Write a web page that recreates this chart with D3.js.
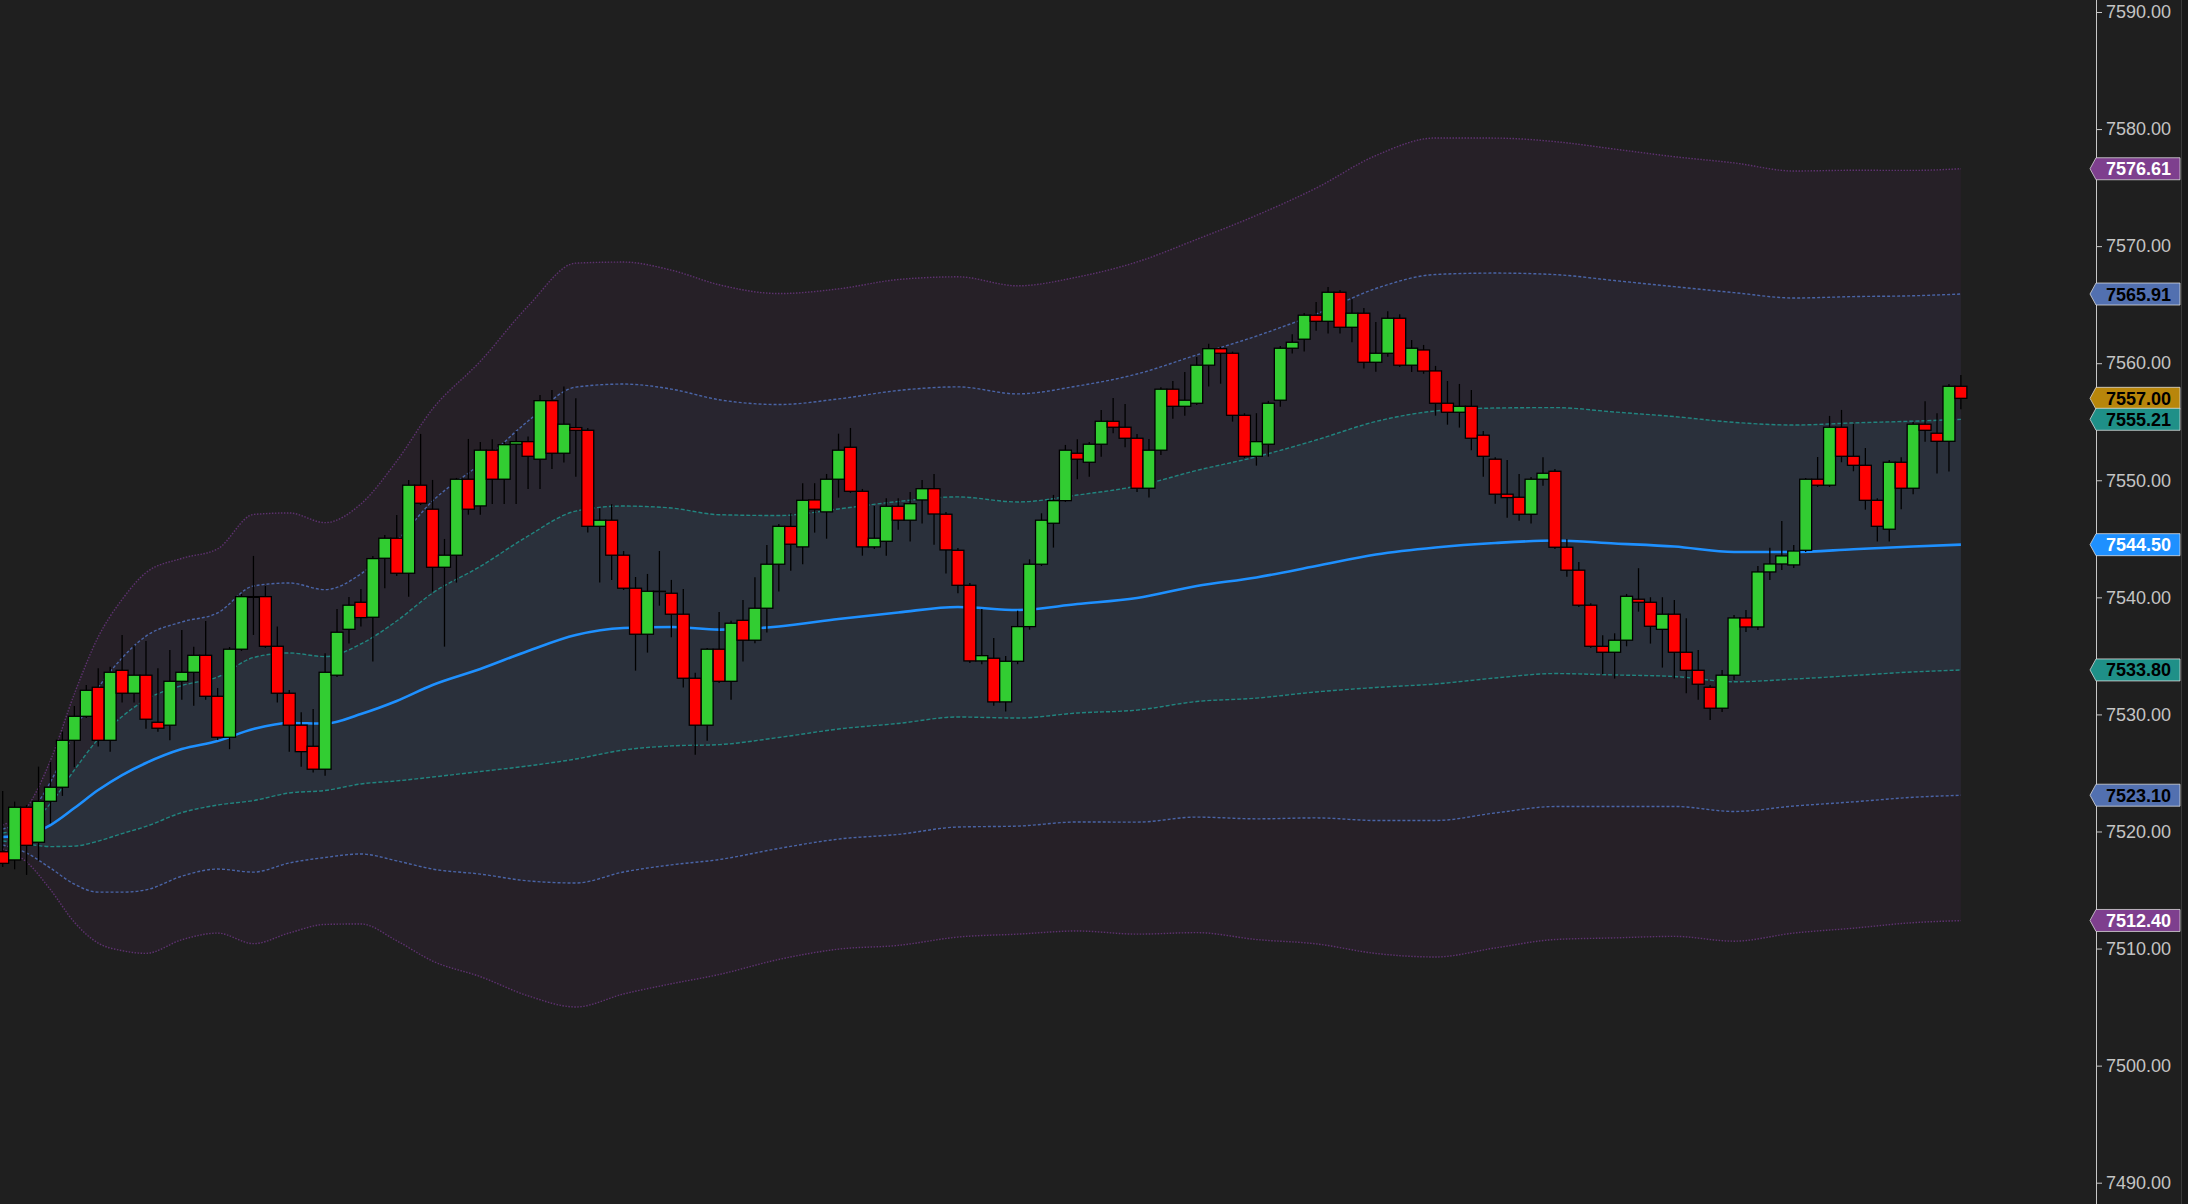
<!DOCTYPE html>
<html><head><meta charset="utf-8">
<script src="https://cdn.jsdelivr.net/npm/d3@7"></script>
<style>html,body{margin:0;padding:0;background:#1f1f1f;overflow:hidden}</style>
</head><body><svg id="c" width="2188" height="1204"></svg>
<script>
// ---- candle data (index 0..164) ----
const open = [
7518.27,7517.57,7522.07,7519.08,7522.58,7523.78,7527.79,7529.84,7532.32,7527.79,
7533.77,7531.81,7533.35,7529.33,7529.08,7532.83,7533.60,7535.05,7531.55,7528.05,
7535.57,7540.00,7540.06,7535.82,7531.81,7529.08,7527.28,7525.32,7533.35,7537.27,
7539.58,7538.30,7543.34,7545.05,7542.06,7549.58,7547.53,7542.57,7543.60,7550.09,
7547.81,7552.57,7550.09,7553.08,7553.30,7551.80,7556.80,7552.31,7554.50,7554.27,
7546.07,7546.59,7543.60,7540.78,7536.85,7540.52,7540.35,7538.56,7533.09,7529.08,
7535.57,7532.83,7538.04,7536.34,7539.07,7542.83,7546.06,7544.31,7548.32,7547.30,
7550.09,7552.82,7549.06,7544.31,7544.79,7547.78,7546.59,7548.32,7549.28,7547.10,
7544.02,7541.03,7534.57,7534.80,7531.07,7534.54,7537.50,7542.83,7546.33,7548.26,
7552.31,7551.54,7553.08,7555.04,7554.53,7553.59,7549.32,7552.57,7557.78,7556.32,
7556.58,7559.83,7561.24,7560.85,7555.55,7552.05,7553.08,7556.84,7561.28,7562.05,
7564.10,7563.58,7566.06,7563.07,7564.27,7560.08,7560.85,7563.84,7559.83,7561.13,
7559.34,7556.58,7555.81,7556.32,7553.85,7551.80,7548.81,7548.55,7547.10,7550.09,
7550.77,7544.28,7542.32,7539.33,7535.82,7535.31,7536.34,7539.84,7539.58,7537.27,
7538.56,7535.31,7533.77,7532.32,7530.53,7533.35,7538.24,7537.47,7542.17,7542.85,
7542.77,7544.02,7550.09,7549.58,7554.53,7552.05,7551.28,7548.29,7545.82,7551.54,
7549.32,7554.79,7554.02,7553.33,7558.03];
const high = [
7523.46,7522.55,7522.27,7525.54,7525.97,7528.53,7530.72,7532.52,7533.94,7534.08,
7536.79,7535.93,7536.28,7533.94,7535.51,7537.22,7535.79,7537.98,7532.26,7535.76,
7540.29,7543.54,7540.97,7537.50,7532.09,7530.19,7530.47,7535.22,7539.01,7540.03,
7540.72,7543.54,7545.33,7547.04,7550.03,7553.96,7550.03,7544.99,7550.20,7553.53,
7553.27,7553.50,7553.27,7554.21,7553.73,7557.29,7557.72,7558.00,7557.01,7554.47,
7547.61,7547.95,7543.96,7541.74,7542.00,7543.96,7541.49,7540.72,7533.57,7535.68,
7538.75,7538.01,7539.78,7541.72,7544.48,7546.27,7547.18,7549.75,7549.75,7550.54,
7553.98,7554.47,7549.26,7547.81,7548.47,7548.47,7549.00,7550.03,7550.54,7547.30,
7544.22,7541.23,7539.01,7536.53,7534.99,7538.86,7543.25,7547.18,7548.75,7553.02,
7553.50,7553.27,7556.01,7557.03,7556.52,7553.96,7553.53,7557.95,7558.48,7559.25,
7560.53,7561.67,7561.39,7560.99,7555.73,7555.73,7556.78,7561.47,7562.47,7564.29,
7565.23,7566.51,7566.26,7565.46,7564.72,7563.52,7564.44,7564.18,7561.98,7561.56,
7559.77,7558.48,7558.23,7557.72,7554.21,7551.97,7551.74,7550.54,7550.29,7551.97,
7550.97,7544.99,7543.02,7539.50,7536.76,7536.93,7540.29,7542.49,7540.01,7540.01,
7539.78,7538.21,7535.51,7532.52,7533.80,7538.49,7538.92,7542.68,7544.24,7546.52,
7544.47,7550.20,7551.99,7555.50,7556.01,7554.81,7552.76,7548.47,7551.74,7551.97,
7554.98,7556.75,7555.73,7558.23,7559.00];
const low = [
7516.97,7516.77,7516.29,7517.51,7520.70,7523.04,7525.49,7529.70,7527.25,7526.82,
7531.01,7531.01,7528.78,7528.53,7527.79,7531.26,7530.75,7531.26,7527.82,7527.03,
7535.42,7536.79,7535.68,7531.01,7526.82,7525.54,7525.03,7524.77,7533.20,7536.05,
7537.50,7534.51,7540.78,7541.83,7540.06,7547.89,7540.49,7535.79,7541.26,7547.06,
7547.06,7547.98,7547.98,7547.98,7549.26,7549.26,7550.97,7551.51,7550.31,7545.53,
7541.26,7541.49,7540.63,7533.74,7535.28,7539.29,7536.59,7532.29,7526.56,7527.76,
7532.69,7531.26,7534.51,7536.08,7536.99,7540.49,7542.28,7542.83,7545.53,7545.01,
7548.52,7548.92,7543.56,7544.14,7543.56,7545.78,7544.76,7546.30,7544.50,7542.03,
7540.35,7534.40,7534.29,7530.75,7530.24,7534.29,7537.24,7542.68,7544.25,7548.15,
7550.09,7550.31,7552.02,7554.02,7552.82,7549.00,7548.52,7552.16,7555.26,7555.52,
7556.43,7558.00,7558.25,7555.01,7551.91,7551.25,7552.02,7556.29,7560.82,7560.99,
7562.78,7562.53,7562.53,7561.79,7559.54,7559.28,7560.56,7559.68,7559.25,7559.10,
7555.52,7554.75,7554.50,7552.57,7550.31,7548.00,7546.81,7546.55,7546.30,7549.54,
7544.14,7541.77,7539.18,7535.68,7533.43,7533.06,7535.82,7538.78,7536.05,7534.00,
7533.06,7531.81,7531.26,7529.53,7530.21,7532.94,7537.04,7537.21,7541.49,7542.34,
7542.51,7543.87,7549.43,7549.43,7551.54,7550.77,7547.49,7544.76,7544.76,7547.53,
7548.81,7553.30,7550.57,7550.74,7556.07];
const close = [
7517.28,7522.07,7518.82,7522.58,7523.78,7527.79,7529.84,7532.06,7527.79,7533.60,
7531.81,7533.35,7529.59,7528.82,7532.83,7533.60,7535.05,7531.55,7528.05,7535.57,
7540.06,7540.06,7535.82,7531.81,7529.08,7526.82,7525.32,7533.60,7537.02,7539.33,
7538.27,7543.31,7545.05,7542.06,7549.58,7548.04,7542.57,7543.60,7550.09,7547.53,
7552.57,7550.09,7553.04,7553.30,7552.05,7556.80,7552.31,7554.79,7554.27,7546.07,
7546.59,7543.60,7540.78,7536.85,7540.52,7540.52,7538.56,7533.09,7529.08,7535.57,
7532.83,7537.79,7536.34,7539.07,7542.83,7546.07,7544.54,7548.29,7547.53,7550.09,
7552.57,7549.06,7544.31,7545.05,7547.78,7546.59,7548.00,7549.28,7547.12,7544.05,
7541.03,7534.57,7535.02,7531.07,7534.54,7537.50,7542.83,7546.59,7548.26,7552.57,
7551.80,7553.08,7555.04,7554.53,7553.59,7549.32,7552.57,7557.78,7556.32,7556.84,
7559.83,7561.24,7560.85,7555.55,7552.05,7553.30,7556.58,7561.28,7561.79,7564.10,
7563.58,7566.06,7563.07,7564.27,7560.08,7560.85,7563.84,7559.83,7561.28,7559.33,
7556.58,7555.81,7556.32,7553.59,7552.05,7548.81,7548.52,7547.10,7550.09,7550.60,
7544.28,7542.32,7539.33,7535.82,7535.31,7536.34,7540.09,7539.58,7537.53,7538.56,
7535.31,7533.77,7532.58,7530.53,7533.35,7538.24,7537.47,7542.17,7542.85,7543.54,
7543.96,7550.09,7549.58,7554.53,7552.05,7551.28,7548.29,7546.07,7551.54,7549.32,
7554.79,7554.27,7553.33,7558.03,7557.00];

// ---- band data: moving average and standard deviation, read at bar indices ----
const bandIdx = [0,2,4,6,8,10,12,15,18,21,24,27,30,33,36,40,44,48,52,56,60,65,70,75,80,85,90,95,100,105,110,115,120,125,130,135,140,145,150,155,160,164];
const bandMid = [7519.53,7519.70,7520.55,7522.00,7523.54,7524.82,7525.85,7527.04,7527.73,7528.75,7529.27,7529.22,7530.04,7531.15,7532.51,7533.88,7535.42,7536.78,7537.38,7537.47,7537.24,7537.51,7538.15,7538.71,7539.18,7538.92,7539.43,7539.94,7540.97,7541.70,7542.68,7543.66,7544.26,7544.64,7544.85,7544.60,7544.34,7543.87,7543.87,7544.11,7544.34,7544.50];
const bandSd = [0.34,0.77,1.84,3.25,4.36,5.00,5.42,5.43,5.47,6.11,5.98,5.72,5.98,6.83,7.86,8.76,9.82,10.59,10.42,10.16,9.82,9.48,9.40,9.48,9.40,9.23,9.31,9.57,9.87,10.31,10.76,11.36,11.66,11.53,11.36,11.23,11.10,11.08,10.85,10.79,10.71,10.705];

// ---- axis ticks and price tags ----
const tickValues = [7490,7500,7510,7520,7530,7540,7550,7560,7570,7580,7590];
const tagValues = [7576.61,7565.91,7557.00,7555.21,7544.50,7533.80,7523.10,7512.40];
const tagKinds  = ['outer','mid','last','inner','ma','inner','mid','outer'];

// ---- styles ----
const style = {
  bg:'#1f1f1f',
  fillOuter:'#262027', fillMid:'#28252f', fillInner:'#2a303b',
  lineOuter:'#5e3270', lineMid:'#4a64a6', lineInner:'#21847f', ma:'#1e90ff',
  up:'#32cd32', down:'#ff0000',
  tag:{outer:['#7e3f8e','#ffffff'], mid:['#5270b0','#000000'], last:['#b8860b','#000000'],
       inner:['#1f9088','#000000'], ma:['#1e90ff','#ffffff']}
};

const W=2188,H=1204, AX=2096;
const svg=d3.select('#c');
svg.append('rect').attr('width',W).attr('height',H).attr('fill',style.bg);

const x=d3.scaleLinear().domain([0,164]).range([2.7,1960.9]);
const y=d3.scaleLinear().domain([7490,7590]).range([1182.7,12]);

const band=bandIdx.map((k,i)=>({k,m:bandMid[i],s:bandSd[i]}));
const curve=d3.curveMonotoneX;
const area=n=>d3.area().x(d=>x(d.k)).y0(d=>y(d.m-n*d.s)).y1(d=>y(d.m+n*d.s)).curve(curve);
const line=n=>d3.line().x(d=>x(d.k)).y(d=>y(d.m+n*d.s)).curve(curve);

const gb=svg.append('g');
gb.append('path').attr('d',area(3)(band)).attr('fill',style.fillOuter);
gb.append('path').attr('d',area(2)(band)).attr('fill',style.fillMid);
gb.append('path').attr('d',area(1)(band)).attr('fill',style.fillInner);
[[3,style.lineOuter,'1.5,1.5'],[-3,style.lineOuter,'1.5,1.5'],
 [2,style.lineMid,'3,2'],[-2,style.lineMid,'3,2'],
 [1,style.lineInner,'4,2'],[-1,style.lineInner,'4,2']].forEach(([n,c,da])=>{
  gb.append('path').attr('d',line(n)(band)).attr('fill','none')
    .attr('stroke',c).attr('stroke-width',1.4).attr('stroke-dasharray',da);
});
gb.append('path').attr('d',line(0)(band)).attr('fill','none')
  .attr('stroke',style.ma).attr('stroke-width',2.6);

// candles
const bars=open.map((o,i)=>({i,o,h:high[i],l:low[i],c:close[i]}));
const bw=(x(1)-x(0));
const gc=svg.append('g');
gc.selectAll('line.w').data(bars).join('line').attr('class','w')
  .attr('x1',d=>x(d.i)).attr('x2',d=>x(d.i))
  .attr('y1',d=>y(d.h)).attr('y2',d=>y(d.l))
  .attr('stroke','#000').attr('stroke-width',1.3);
gc.selectAll('rect.b').data(bars).join('rect').attr('class','b')
  .attr('x',d=>x(d.i)-bw/2).attr('width',bw)
  .attr('y',d=>y(Math.max(d.o,d.c)))
  .attr('height',d=>Math.max(0.3,Math.abs(y(d.o)-y(d.c))))
  .attr('fill',d=>d.c>=d.o?style.up:style.down)
  .attr('stroke','#000').attr('stroke-width',1.3);

// right strip
svg.append('rect').attr('x',2181).attr('y',0).attr('width',7).attr('height',H).attr('fill','#1a1a1a');
svg.append('line').attr('x1',2181.5).attr('x2',2181.5).attr('y1',0).attr('y2',H).attr('stroke','#3a3a3a');

// axis
const ax=svg.append('g').attr('transform',`translate(${AX},0)`)
  .call(d3.axisRight(y).tickValues(tickValues).tickFormat(d3.format('.2f')).tickSize(6).tickPadding(4));
ax.select('.domain').remove();
ax.selectAll('line').attr('stroke','#c8c8c8');
ax.selectAll('text').attr('fill','#c4c4c4').style('font-family','"Liberation Sans",Arial,sans-serif').style('font-size','18px');
svg.append('line').attr('x1',AX+0.5).attr('x2',AX+0.5).attr('y1',0).attr('y2',H).attr('stroke','#c8c8c8');

// tags
const gt=svg.append('g');
tagValues.forEach((v,i)=>{
  const [bg,fg]=style.tag[tagKinds[i]];
  const g=gt.append('g').attr('transform',`translate(${AX},${y(v)})`);
  g.append('path').attr('d','M-6,0L0,-11L84,-11L84,11L0,11Z').attr('fill',bg)
    .attr('stroke','rgba(225,225,225,0.75)').attr('stroke-width',1);
  g.append('text').attr('x',10).attr('y',0).attr('dy','0.36em').text(d3.format('.2f')(v))
    .attr('fill',fg).style('font-family','"Liberation Sans",Arial,sans-serif')
    .style('font-size','18px').style('font-weight','bold');
});
</script></body></html>
